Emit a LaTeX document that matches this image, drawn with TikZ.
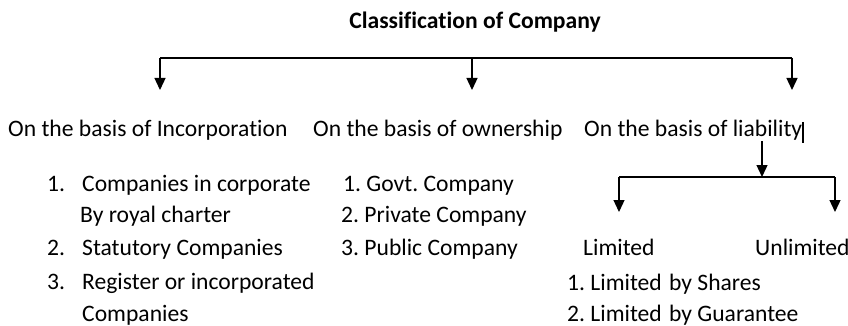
\documentclass[tikz,border=0pt]{standalone}
\usepackage{fontspec}
\setmainfont[Ligatures={NoCommon}]{Carlito}
\usepackage{tikz}
\usetikzlibrary{arrows.meta}
\frenchspacing
\tikzstyle{txt} = [inner sep=0pt, font=\fontsize{23.6}{28}\selectfont]
\tikzset{
  line/.style ={draw, line width=1.3pt, -{Triangle[length=12pt,width=11pt]}, shorten >=0pt}
}
\begin{document}
\begin{tikzpicture}[x=1pt,y=-1pt]
	\useasboundingbox (0,0) rectangle (848,326);
	\node[txt,anchor=base] (title) at (475,29) {\bfseries Classification of Company};
	\node[txt,anchor=base west] (inc) at (8,136) {On the basis of Incorporation};
	\node[txt,anchor=base west] (own) at (313,136) {On the basis of ownership};
	\node[txt,anchor=base west] (lia) at (584,136) {On the basis of liability};
	\draw [line width=2pt] (803,122) -- (803,143);
	% main branch
	\coordinate (barl) at (160,58);
	\coordinate (barm) at (472,58);
	\coordinate (barr) at (792,58);
	\draw [line width=1.3pt] (barl) -- (barr);
	\draw [line] (barl) -- (160,90);
	\draw [line] (barm) -- (472,90);
	\draw [line] (barr) -- (792,90);
	% liability branch
	\coordinate (subm) at (762,177);
	\coordinate (subl) at (619,177);
	\coordinate (subr) at (835,177);
	\draw [line] (762,141) -- (subm);
	\draw [line width=1.3pt] (subl) -- (subr);
	\draw [line] (subl) -- (619,212);
	\draw [line] (subr) -- (835,212);
	% incorporation
	\node[txt,anchor=base west] (i1n) at (47,191) {1.};
	\node[txt,anchor=base west] (i1) at (82,191) {Companies in corporate};
	\node[txt,anchor=base west] (i1b) at (80,222) {By royal charter};
	\node[txt,anchor=base west] (i2n) at (47,255) {2.};
	\node[txt,anchor=base west] (i2) at (82,255) {Statutory Companies};
	\node[txt,anchor=base west] (i3n) at (47,289) {3.};
	\node[txt,anchor=base west] (i3) at (82,289) {Register or incorporated};
	\node[txt,anchor=base west] (i3b) at (82,321) {Companies};
	% ownership
	\node[txt,anchor=base west] (o1) at (343,191) {1. Govt. Company};
	\node[txt,anchor=base west] (o2) at (341,222) {2. Private Company};
	\node[txt,anchor=base west] (o3) at (341,255) {3. Public Company};
	% liability
	\node[txt,anchor=base west] (lim) at (583,255) {Limited};
	\node[txt,anchor=base west] (unl) at (755,255) {Unlimited};
	\node[txt,anchor=base west] (l1) at (567,290) {1. Limited\kern2pt{} by Shares};
	\node[txt,anchor=base west] (l2) at (567,321) {2. Limited\kern2pt{} by Guarantee};
\end{tikzpicture}
\end{document}
